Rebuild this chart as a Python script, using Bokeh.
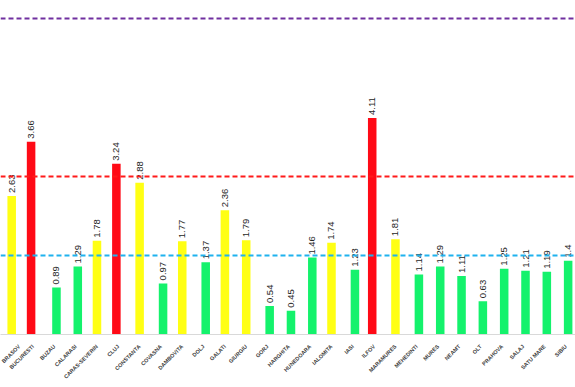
import math
from bokeh.plotting import figure
from bokeh.models import ColumnDataSource, Range1d, FixedTicker, Span
from bokeh.core.properties import value
from bokeh.embed import file_html
from bokeh.resources import INLINE

# ---- data ----
counties = ["BRASOV", "BUCURESTI", "BUZAU", "CALARASI", "CARAS-SEVERIN", "CLUJ",
            "CONSTANTA", "COVASNA", "DAMBOVITA", "DOLJ", "GALATI", "GIURGIU",
            "GORJ", "HARGHITA", "HUNEDOARA", "IALOMITA", "IASI", "ILFOV",
            "MARAMURES", "MEHEDINTI", "MURES", "NEAMT", "OLT", "PRAHOVA",
            "SALAJ", "SATU MARE", "SIBIU"]
values = [2.63, 3.66, 0.89, 1.29, 1.78, 3.24,
          2.88, 0.97, 1.77, 1.37, 2.36, 1.79,
          0.54, 0.45, 1.46, 1.74, 1.23, 4.11,
          1.81, 1.14, 1.29, 1.11, 0.63, 1.25,
          1.21, 1.19, 1.4]
thresholds = [1.5, 3.0, 6.0]
threshold_colors = ["#1FB2EE", "#FF1A1A", "#7030A0"]

series_colors = {"green": "#14F26C", "yellow": "#FFFF14", "red": "#FF0A16"}
series_offsets = {"green": 0.10, "yellow": 0.0, "red": -0.09}


def series_of(v):
    if v > thresholds[1]:
        return "red"
    if v >= thresholds[0]:
        return "yellow"
    return "green"


series = [series_of(v) for v in values]
idx = list(range(len(counties)))
xpos = [i + series_offsets[s] for i, s in zip(idx, series)]
colors = [series_colors[s] for s in series]
labels = [str(v) for v in values]

src = ColumnDataSource(dict(x=xpos, top=values, color=colors, label=labels))

p = figure(width=575, height=387, output_backend="svg", toolbar_location=None,
           x_range=Range1d(-0.525, 26.445), y_range=Range1d(0, 6.34),
           y_axis_location=None, min_border_left=0, min_border_right=0,
           min_border_top=0, min_border_bottom=53)
p.outline_line_color = None
p.grid.visible = False
p.background_fill_color = "white"

p.vbar(x="x", top="top", bottom=0, width=0.4, color="color", line_color=None, source=src)

p.text(x="x", y="top", text="label", angle=math.pi / 2, text_align="left",
       text_baseline="middle", y_offset=-3, text_font=value("Liberation Sans"),
       text_font_size="9.5px", text_color="#262626", source=src)

for t, c in zip(thresholds, threshold_colors):
    p.add_layout(Span(location=t, dimension="width", line_color=c,
                      line_dash="5 3", line_width=2))

ax = p.xaxis[0]
ax.ticker = FixedTicker(ticks=idx)
ax.major_label_overrides = {i: n for i, n in zip(idx, counties)}
ax.major_label_orientation = math.pi / 4
ax.major_label_text_font = "Liberation Sans"
ax.major_label_text_font_size = "5.5px"
ax.major_label_text_font_style = "bold"
ax.major_label_text_color = "#404040"
ax.major_label_standoff = 5
ax.axis_line_color = "#D9D9D9"
ax.axis_line_width = 1
ax.major_tick_line_color = None
ax.minor_tick_line_color = None

open("out.html", "w").write(file_html(p, INLINE))
